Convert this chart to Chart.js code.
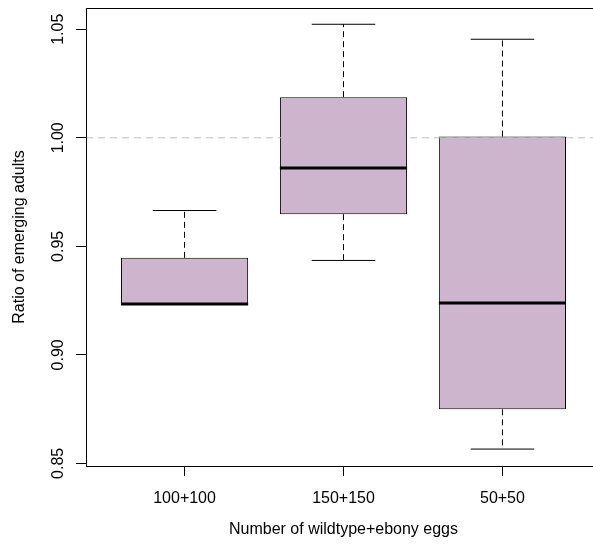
<!DOCTYPE html>
<html><head><meta charset="utf-8">
<style>html,body{margin:0;padding:0;overflow:hidden;background:#fff}#wrap{width:593px;height:545px;overflow:hidden;position:relative}</style>
<script src="https://cdn.jsdelivr.net/npm/chart.js@4.4.1/dist/chart.umd.min.js"></script>
</head><body>
<div id="wrap"><canvas id="c" width="601" height="545" style="display:block;width:601px;height:545px"></canvas></div>
<script>
// ---- data ----
const categories  = ['100+100', '150+150', '50+50'];
const whiskerLow  = [0.9234, 0.9435, 0.8566];
const quartile1   = [0.9234, 0.9648, 0.8749];
const medians     = [0.9234, 0.9861, 0.9239];
const quartile3   = [0.9447, 1.0187, 1.0006];
const whiskerHigh = [0.9665, 1.0523, 1.0454];
const yTickValues = [0.85, 0.90, 0.95, 1.00, 1.05];
const yTickLabels = ['0.85', '0.90', '0.95', '1.00', '1.05'];
const referenceLine = 1.00;
const xLimits = [0.38, 3.62];
const yLimits = [0.8488, 1.0598];

const FONT = {family: '"Liberation Sans", Arial, sans-serif', size: 16};
const BOX_HALF = 0.4, CAP_HALF = 0.2;

function segments(pairs) {
  const out = [];
  pairs.forEach(p => { out.push(p[0], p[1], {x: p[0].x, y: null}); });
  return out;
}
const pos = categories.map((c, i) => i + 1);

const boxData = pos.map((x, i) => ({x, y: [quartile1[i], quartile3[i]]}));
const upperWhisker = segments(pos.map((x, i) => [{x, y: quartile3[i]}, {x, y: whiskerHigh[i]}]));
const lowerWhisker = segments(pos.map((x, i) => [{x, y: quartile1[i]}, {x, y: whiskerLow[i]}]));
const caps = segments(pos.flatMap((x, i) => [
  [{x: x - CAP_HALF, y: whiskerHigh[i]}, {x: x + CAP_HALF, y: whiskerHigh[i]}],
  [{x: x - CAP_HALF, y: whiskerLow[i]}, {x: x + CAP_HALF, y: whiskerLow[i]}]
]));
const medianLines = segments(pos.map((x, i) => [{x: x - BOX_HALF, y: medians[i]}, {x: x + BOX_HALF, y: medians[i]}]));

const frame = {
  id: 'frame',
  afterDatasetsDraw(chart) {
    const {ctx, chartArea: a} = chart;
    ctx.save();
    ctx.strokeStyle = '#000';
    ctx.lineWidth = 1;
    ctx.setLineDash([]);
    ctx.strokeRect(Math.round(a.left) + 0.5, Math.round(a.top) + 0.5, Math.round(a.right - a.left), Math.round(a.bottom - a.top));
    ctx.restore();
  }
};

const lineBase = {type: 'line', pointRadius: 0, pointHoverRadius: 0, fill: false, spanGaps: false, tension: 0, borderColor: '#000', borderWidth: 1};

new Chart(document.getElementById('c'), {
  type: 'bar',
  data: {
    datasets: [
      {type: 'bar', data: boxData, backgroundColor: '#CDB5CD', borderColor: '#000', borderWidth: 1,
       borderSkipped: false, categoryPercentage: 1, barPercentage: 0.8, order: 4},
      Object.assign({}, lineBase, {data: upperWhisker, borderDash: [6, 4], order: 3}),
      Object.assign({}, lineBase, {data: lowerWhisker, borderDash: [6, 4], order: 3}),
      Object.assign({}, lineBase, {data: caps, order: 2}),
      Object.assign({}, lineBase, {data: medianLines, borderWidth: 3, order: 1}),
      Object.assign({}, lineBase, {data: [{x: xLimits[0], y: referenceLine}, {x: xLimits[1], y: referenceLine}],
        borderColor: '#BEBEBE', borderDash: [7, 5], order: 0})
    ]
  },
  options: {
    responsive: false,
    animation: false,
    devicePixelRatio: 1,
    layout: {padding: {top: 8, left: 0, right: 0, bottom: 0}},
    plugins: {legend: {display: false}, tooltip: {enabled: false}},
    scales: {
      x: {
        type: 'linear', min: xLimits[0], max: xLimits[1], offset: false,
        grid: {display: true, drawOnChartArea: false, drawTicks: true, tickLength: 10, tickColor: '#000', tickWidth: 1, offset: false},
        border: {display: false},
        afterBuildTicks: s => { s.ticks = pos.map(v => ({value: v})); },
        ticks: {color: '#000', font: FONT, padding: 13, minRotation: 0, maxRotation: 0, autoSkip: false,
                callback: v => categories[Math.round(v) - 1]},
        title: {display: true, text: 'Number of wildtype+ebony eggs', color: '#000', font: FONT, padding: {top: 0, bottom: 6}},
        afterFit: s => { s.height = 79; s.paddingLeft = 0; s.paddingRight = 0; }
      },
      y: {
        type: 'linear', min: yLimits[0], max: yLimits[1],
        grid: {display: true, drawOnChartArea: false, drawTicks: true, tickLength: 10, tickColor: '#000', tickWidth: 1},
        border: {display: false},
        afterBuildTicks: s => { s.ticks = yTickValues.map(v => ({value: v})); },
        ticks: {color: '#000', font: FONT, padding: 2, minRotation: 90, maxRotation: 90, crossAlign: 'center', autoSkip: false,
                callback: (v, i) => yTickLabels[i]},
        title: {display: true, text: 'Ratio of emerging adults', color: '#000', font: FONT, padding: {top: 10, bottom: 0}},
        afterFit: s => { s.width = 86; s.paddingTop = 0; s.paddingBottom = 0; }
      }
    }
  },
  plugins: [frame]
});
</script>
</body></html>
